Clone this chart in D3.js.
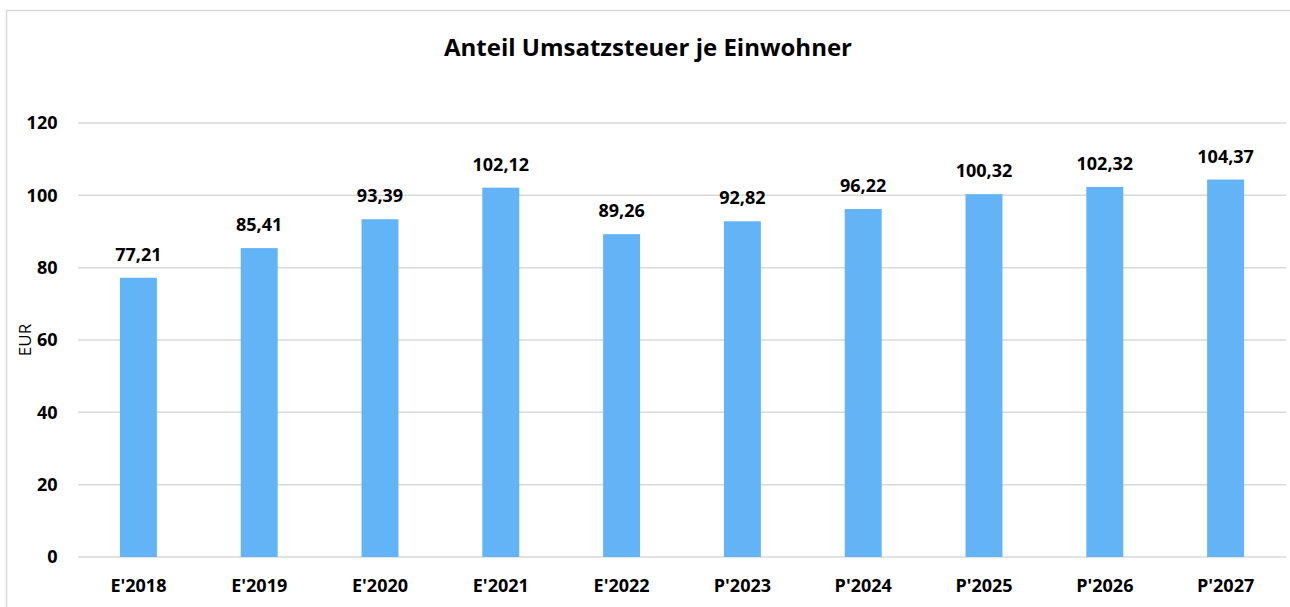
<!DOCTYPE html>
<html><head><meta charset="utf-8">
<script src="https://cdn.jsdelivr.net/npm/d3@7"></script>
<style>body{margin:0;background:#fff}svg{display:block}</style>
</head><body>
<script>
const categories = ["E'2018","E'2019","E'2020","E'2021","E'2022","P'2023","P'2024","P'2025","P'2026","P'2027"];
const values = [77.21,85.41,93.39,102.12,89.26,92.82,96.22,100.32,102.32,104.37];
const yTicks = [0,20,40,60,80,100,120];
const title = "Anteil Umsatzsteuer je Einwohner";
const yLabel = "EUR";

const W = 1290, H = 607;
const font = "'Open Sans', 'Noto Sans', sans-serif";
const svg = d3.select("body").append("svg").attr("width", W).attr("height", H);
svg.append("rect").attr("x",6.5).attr("y",10.5).attr("width",W+10).attr("height",H+10)
  .attr("fill","#fff").attr("stroke","#d9d9d9").attr("stroke-width",1.5);

const x = d3.scaleBand().domain(categories).range([78,1286]).paddingInner(0.694).paddingOuter(0.347);
const y = d3.scaleLinear().domain([0,120]).range([557,123]);

const grid = svg.append("g");
grid.selectAll("line").data(yTicks).join("line")
  .attr("x1",78).attr("x2",1286).attr("y1",d=>y(d)).attr("y2",d=>y(d))
  .attr("stroke","#d9d9d9").attr("stroke-width",1.5);

const yAxis = svg.append("g").attr("transform","translate(57.5,0)")
  .call(d3.axisLeft(y).tickValues(yTicks).tickSize(0).tickPadding(0));
yAxis.select(".domain").remove();
yAxis.selectAll("text").attr("font-family",font).attr("font-weight","bold").attr("font-size",18).attr("fill","#000");

svg.append("g").selectAll("rect").data(values).join("rect")
  .attr("x",(d,i)=>x(categories[i])).attr("width",x.bandwidth())
  .attr("y",d=>y(d)).attr("height",d=>y(0)-y(d)).attr("fill","#63b4f6");

svg.append("g").selectAll("text").data(values).join("text")
  .attr("x",(d,i)=>x(categories[i])+x.bandwidth()/2).attr("y",d=>y(d)-17)
  .attr("text-anchor","middle").attr("font-family",font).attr("font-weight","bold").attr("font-size",18)
  .text(d=>d.toFixed(2).replace(".",","));

const xAxis = svg.append("g").attr("transform","translate(0,557)")
  .call(d3.axisBottom(x).tickSize(0).tickPadding(22));
xAxis.select(".domain").remove();
xAxis.selectAll("text").attr("font-family",font).attr("font-weight","bold").attr("font-size",18).attr("fill","#000");

svg.append("text").attr("x",648).attr("y",56).attr("text-anchor","middle")
  .attr("font-family",font).attr("font-weight","bold").attr("font-size",24).text(title);

svg.append("text").attr("transform","translate(31,340) rotate(-90)").attr("text-anchor","middle")
  .attr("font-family",font).attr("font-size",17).text(yLabel);
</script>
</body></html>
